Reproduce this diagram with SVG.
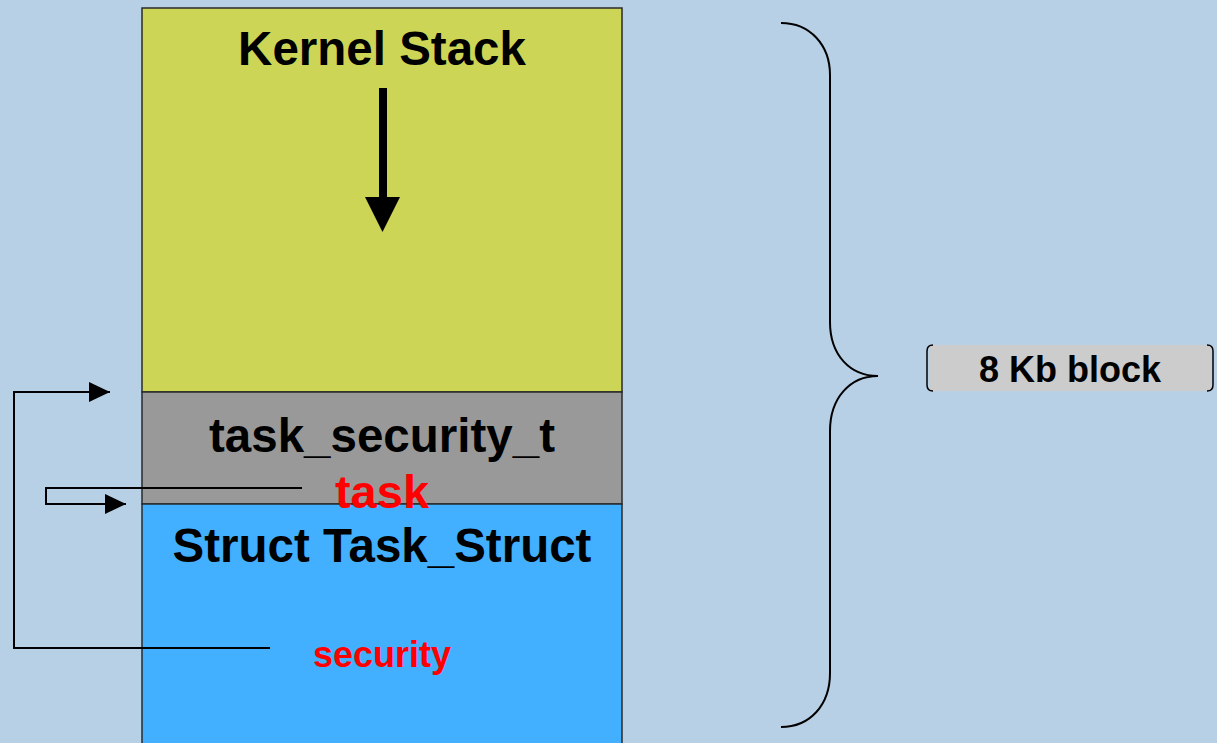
<svg xmlns="http://www.w3.org/2000/svg" width="1217" height="743" viewBox="0 0 1217 743">
  <style>
    .box { stroke: #2a2a2a; stroke-width: 1.5; }
    .lbl { font-family: "Liberation Sans", Arial, sans-serif; font-weight: bold; text-anchor: middle; }
    .big { font-size: 47.5px; fill: #000; }
    .red { fill: #ff0000; }
    .wire { fill: none; stroke: #000; stroke-width: 2; }
  </style>
  <defs>
    <marker id="tri" markerWidth="21" markerHeight="20" refX="21" refY="10" orient="auto" markerUnits="userSpaceOnUse">
      <path d="M0,0 L21,10 L0,20 Z" fill="#000"/>
    </marker>
  </defs>

  <rect width="1217" height="743" fill="#b8d0e6"/>

  <!-- stack region -->
  <g id="kernel-stack">
    <rect class="box" x="142" y="8" width="480" height="384" fill="#cdd556"/>
    <text class="lbl big" x="382" y="65">Kernel Stack</text>
    <rect x="379" y="88" width="8" height="110" fill="#000"/>
    <path d="M365,197 L400,197 L382.5,232 Z" fill="#000"/>
  </g>

  <g id="task-security-t">
    <rect class="box" x="142" y="392" width="480" height="112" fill="#999999"/>
    <text class="lbl big" x="382" y="452">task_security_t</text>
  </g>

  <g id="task-struct">
    <rect class="box" x="142" y="504" width="480" height="250" fill="#42b0ff"/>
    <text class="lbl big" x="382" y="562">Struct Task_Struct</text>
  </g>

  <!-- pointer arrows -->
  <g id="connectors">
    <path class="wire" d="M270,648 H14 V392 H110" marker-end="url(#tri)"/>
    <path class="wire" d="M302,488 H46 V504 H126" marker-end="url(#tri)"/>
  </g>

  <g id="field-labels">
    <text class="lbl red" x="382" y="508" font-size="47">task</text>
    <text class="lbl red" x="382" y="667" font-size="36">security</text>
  </g>

  <!-- brace spanning the block -->
  <g id="brace">
    <path d="M781,23 C810,23 830,45 830,75 V322 C830,355 850,376 878,376 C850,376 830,398 830,431 V673 C830,705 810,727 781,727" fill="none" stroke="#000" stroke-width="2"/>
  </g>

  <g id="block-size">
    <rect x="929" y="345" width="282" height="46" fill="#cccccc"/>
    <path d="M933,345 Q927,345 927,351 V385 Q927,391 933,391" fill="none" stroke="#000" stroke-width="1.5"/>
    <path d="M1207,345 Q1213,345 1213,351 V385 Q1213,391 1207,391" fill="none" stroke="#000" stroke-width="1.5"/>
    <text class="lbl" x="1070" y="382" font-size="36">8 Kb block</text>
  </g>
</svg>
